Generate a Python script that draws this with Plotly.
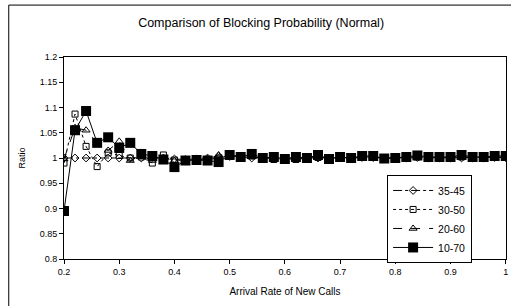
import plotly.graph_objects as go

x_vals = [0.20, 0.22, 0.24, 0.26, 0.28, 0.30, 0.32, 0.34, 0.36, 0.38, 0.40,
          0.42, 0.44, 0.46, 0.48, 0.50, 0.52, 0.54, 0.56, 0.58, 0.60,
          0.62, 0.64, 0.66, 0.68, 0.70, 0.72, 0.74, 0.76, 0.78, 0.80,
          0.82, 0.84, 0.86, 0.88, 0.90, 0.92, 0.94, 0.96, 0.98, 1.00]

s_35_45 = [1.000, 1.000, 1.000, 1.000, 1.000, 1.000, 1.000, 1.000, 1.000, 1.000, 0.998,
           0.997, 0.998, 1.000, 1.003, 1.003, 1.002, 1.000, 1.000, 1.000, 1.000,
           1.000, 1.000, 1.000, 1.000, 1.000, 1.000, 1.001, 1.001, 1.000, 1.000,
           1.000, 1.001, 1.000, 1.000, 1.000, 1.000, 1.000, 1.000, 1.001, 1.001]

s_30_50 = [0.990, 1.087, 1.023, 0.983, 1.010, 1.005, 1.000, 1.002, 0.990, 1.006, 0.996,
           0.995, 0.996, 0.997, 1.000, 1.005, 1.002, 1.004, 1.000, 0.997, 0.999,
           0.997, 1.000, 1.001, 0.999, 1.001, 1.000, 1.002, 1.002, 0.999, 1.000,
           1.001, 1.002, 1.001, 1.000, 1.001, 1.002, 1.001, 1.001, 1.002, 1.002]

s_20_60 = [0.998, 1.060, 1.055, 1.030, 1.015, 1.033, 0.995, 1.005, 0.995, 1.000, 0.995,
           0.996, 0.997, 0.998, 1.006, 1.005, 1.003, 1.002, 1.000, 1.000, 1.000,
           1.000, 1.000, 1.002, 1.000, 1.001, 1.000, 1.002, 1.002, 1.000, 1.000,
           1.001, 1.003, 1.001, 1.001, 1.001, 1.003, 1.001, 1.001, 1.002, 1.002]

s_10_70 = [0.895, 1.055, 1.093, 1.030, 1.041, 1.020, 1.030, 1.008, 1.004, 0.997, 0.982,
           0.995, 0.996, 0.995, 0.992, 1.006, 1.002, 1.008, 1.000, 1.002, 0.998,
           1.002, 1.000, 1.006, 0.998, 1.002, 1.000, 1.004, 1.004, 0.999, 1.000,
           1.002, 1.005, 1.002, 1.002, 1.002, 1.006, 1.002, 1.002, 1.004, 1.004]

x_ticks = [0.2, 0.3, 0.4, 0.5, 0.6, 0.7, 0.8, 0.9, 1.0]
x_tick_labels = ["0.2", "0.3", "0.4", "0.5", "0.6", "0.7", "0.8", "0.9", "1"]
y_ticks = [0.8, 0.85, 0.9, 0.95, 1.0, 1.05, 1.1, 1.15, 1.2]
y_tick_labels = ["0.8", "0.85", "0.9", "0.95", "1", "1.05", "1.1", "1.15", "1.2"]

FONT = "Liberation Sans, Arial, sans-serif"

fig = go.Figure()
fig.add_trace(go.Scatter(
    x=x_vals, y=s_35_45, name="35-45", mode="lines+markers",
    line=dict(color="black", width=1, dash="dashdot"),
    marker=dict(symbol="diamond-open", size=6, color="black", line=dict(width=1)),
))
fig.add_trace(go.Scatter(
    x=x_vals, y=s_30_50, name="30-50", mode="lines+markers",
    line=dict(color="black", width=1, dash="dot"),
    marker=dict(symbol="square-open", size=6, color="black", line=dict(width=1)),
))
fig.add_trace(go.Scatter(
    x=x_vals, y=s_20_60, name="20-60", mode="lines+markers",
    line=dict(color="black", width=1, dash="dash"),
    marker=dict(symbol="triangle-up-open", size=7, color="black", line=dict(width=1)),
))
fig.add_trace(go.Scatter(
    x=x_vals, y=s_10_70, name="10-70", mode="lines+markers",
    line=dict(color="black", width=1),
    marker=dict(symbol="square", size=10, color="black"),
))

fig.update_layout(
    width=511, height=306,
    margin=dict(l=64, r=5, t=57, b=47, autoexpand=False),
    paper_bgcolor="white", plot_bgcolor="white",
    font=dict(family=FONT, size=9, color="black"),
    title=dict(text="Comparison of Blocking Probability (Normal)",
               x=0.511, xanchor="center", y=0.925, yanchor="middle",
               font=dict(size=12.5, family=FONT)),
    showlegend=True,
    legend=dict(x=0.731, xanchor="left", y=0.416, yanchor="top",
                bordercolor="black", borderwidth=1, bgcolor="white",
                font=dict(size=10.5, family=FONT), tracegroupgap=0,
                itemwidth=40),
    shapes=[dict(type="rect", xref="paper", yref="paper",
                 x0=-0.125, x1=1.1, y0=-0.35, y1=1.257,
                 line=dict(color="black", width=1), layer="below")],
)
fig.update_xaxes(
    range=[0.2, 1.0005], tickvals=x_ticks, ticktext=x_tick_labels,
    automargin=False,
    showgrid=False, zeroline=False, showline=True, linecolor="black", linewidth=1,
    mirror=True, ticks="outside", ticklen=4, tickcolor="black",
    tickfont=dict(size=9),
    title=dict(text="Arrival Rate of New Calls", font=dict(size=10), standoff=12),
)
fig.update_yaxes(
    range=[0.8, 1.2], tickvals=y_ticks, ticktext=y_tick_labels,
    automargin=False,
    showgrid=False, zeroline=False, showline=True, linecolor="black", linewidth=1,
    mirror=True, ticks="outside", ticklen=4, tickcolor="black",
    tickfont=dict(size=9),
    title=dict(text="Ratio", font=dict(size=9), standoff=12),
)

fig.write_html("out.html", config={"displayModeBar": False},
               post_script="document.body.style.margin='0px';")
